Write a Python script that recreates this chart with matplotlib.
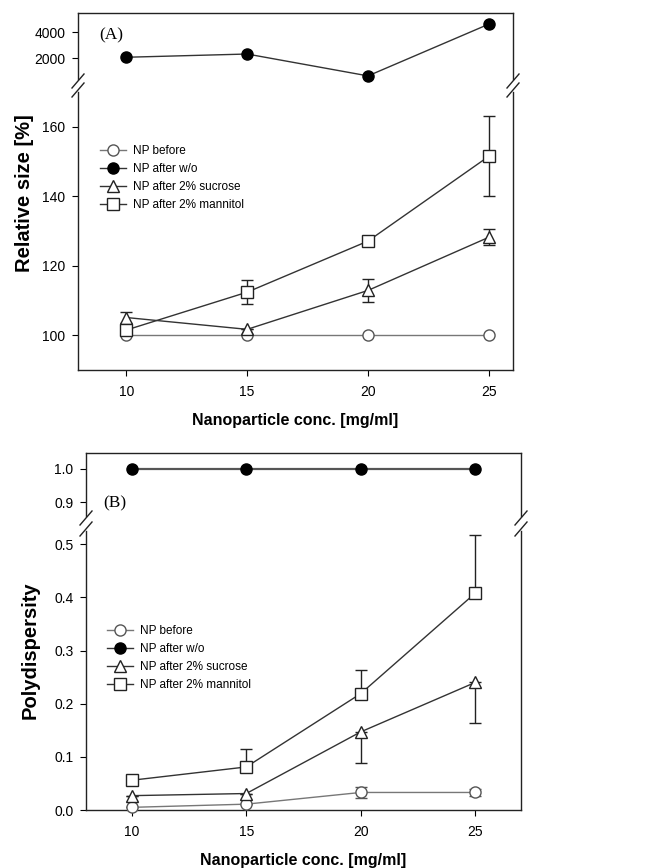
import matplotlib
matplotlib.use("Agg")
import matplotlib.pyplot as plt
from matplotlib.lines import Line2D

plt.rcParams["font.family"] = ["Liberation Sans", "DejaVu Sans"]

W, H = 646, 868

conc = [10, 15, 20, 25]
labels = ["NP before", "NP after w/o", "NP after 2% sucrose", "NP after 2% mannitol"]

# (A) relative size [%]
size_before = [100, 100, 100, 100]
size_wo = [2080, 2330, 640, 4640]
size_sucrose = [105.1, 101.7, 112.9, 128.2]
size_sucrose_err = [1.5, 0.0, 3.2, 2.3]
size_mannitol = [101.5, 112.4, 127.1, 151.5]
size_mannitol_err = [0.0, 3.5, 0.0, 11.5]

# (B) polydispersity
pdi_before = [0.005, 0.011, 0.033, 0.033]
pdi_before_err = [0.0, 0.0, 0.010, 0.007]
pdi_wo = [1.0, 1.0, 1.0, 1.0]
pdi_sucrose = [0.027, 0.031, 0.147, 0.240]
pdi_sucrose_lo = [0.0, 0.0, 0.059, 0.076]
pdi_mannitol = [0.056, 0.081, 0.219, 0.408]
pdi_mannitol_hi = [0.0, 0.034, 0.045, 0.110]


def px_axes(fig, x0, x1, y0, y1):
    # pixel box (top-left origin) -> figure fraction
    return fig.add_axes([x0 / W, 1 - y1 / H, (x1 - x0) / W, (y1 - y0) / H])


def style(ax, top_part):
    ax.tick_params(direction="out", length=4, width=0.8, labelsize=10, pad=5,
                   right=False, top=False)
    for s in ax.spines.values():
        s.set_linewidth(1.0)
        s.set_color("#222222")
    if top_part:
        ax.spines["bottom"].set_visible(False)
        ax.tick_params(axis="x", bottom=False, labelbottom=False)
    else:
        ax.spines["top"].set_visible(False)
        ax.tick_params(axis="x", pad=7)


def break_marks(ax, where):
    bb = ax.get_position()
    dx = 6 / W / bb.width
    dy = 7 / H / bb.height
    y = 0 if where == "bottom" else 1
    off = -2 / H / bb.height if where == "bottom" else 2 / H / bb.height
    for x in (0, 1):
        ax.plot([x - dx, x + dx], [y + off - dy, y + off + dy], transform=ax.transAxes,
                color="#222222", lw=1.0, clip_on=False)


kw_before = dict(color="#777777", lw=1.0, marker="o", ms=8, mfc="white", mec="#555555", mew=1.0)
kw_wo = dict(color="#333333", lw=1.0, marker="o", ms=8, mfc="black", mec="black")
kw_suc = dict(color="#333333", lw=1.0, marker="^", ms=8, mfc="white", mec="#222222", mew=1.0)
kw_man = dict(color="#333333", lw=1.0, marker="s", ms=8, mfc="white", mec="#222222", mew=1.0)
kw_err = dict(elinewidth=1.0, capsize=4, clip_on=False, zorder=3)

legend_handles = [Line2D([], [], **kw_before), Line2D([], [], **kw_wo),
                  Line2D([], [], **kw_suc), Line2D([], [], **kw_man)]
legend_kw = dict(loc="upper left", frameon=False, fontsize=8.5, handlelength=2.2,
                 handletextpad=0.55, labelspacing=0.5, borderaxespad=0)

fig = plt.figure(figsize=(W / 100, H / 100), dpi=100)

# ---------------- panel A ----------------
a_top = px_axes(fig, 78, 513, 13, 79)
a_bot = px_axes(fig, 78, 513, 92, 370)

a_top.plot(conc, size_wo, clip_on=False, zorder=3, **kw_wo)
a_top.set_xlim(8, 26)
a_top.set_ylim(400, 5500)
a_top.set_yticks([2000, 4000])
style(a_top, True)
a_top.text(0.05, 0.6, "(A)", transform=a_top.transAxes,
           family=["Liberation Serif", "DejaVu Serif"], fontsize=12.5)

a_bot.errorbar(conc, size_before, ecolor="#555555", **kw_err, **kw_before)
a_bot.errorbar(conc, size_sucrose, yerr=size_sucrose_err, ecolor="#222222", **kw_err, **kw_suc)
a_bot.errorbar(conc, size_mannitol, yerr=size_mannitol_err, ecolor="#222222", **kw_err, **kw_man)
a_bot.set_xlim(8, 26)
a_bot.set_ylim(90, 170)
a_bot.set_yticks([100, 120, 140, 160])
a_bot.set_xticks(conc)
style(a_bot, False)
a_bot.set_ylabel("Relative size [%]", fontsize=14.5, fontweight="bold")
a_bot.yaxis.set_label_coords(-0.10, 0.637)
a_bot.set_xlabel("Nanoparticle conc. [mg/ml]", fontsize=11.5, fontweight="bold", labelpad=10)
a_bot.legend(legend_handles, labels, bbox_to_anchor=(0.04, 0.825), **legend_kw)

break_marks(a_top, "bottom")
break_marks(a_bot, "top")

# ---------------- panel B ----------------
b_top = px_axes(fig, 86, 521, 453, 516)
b_bot = px_axes(fig, 86, 521, 531, 810)

b_top.plot(conc, pdi_wo, clip_on=False, zorder=3, **dict(kw_wo, color="#555555", lw=1.6))
b_top.set_xlim(8, 27)
b_top.set_ylim(0.858, 1.048)
b_top.set_yticks([0.9, 1.0])
b_top.set_yticklabels(["0.9", "1.0"])
style(b_top, True)
b_top.text(0.04, 0.13, "(B)", transform=b_top.transAxes,
           family=["Liberation Serif", "DejaVu Serif"], fontsize=12.5)

zeros = [0, 0, 0, 0]
b_bot.errorbar(conc, pdi_before, yerr=pdi_before_err, ecolor="#555555", **kw_err, **kw_before)
b_bot.errorbar(conc, pdi_sucrose, yerr=[pdi_sucrose_lo, zeros], ecolor="#222222", **kw_err, **kw_suc)
b_bot.errorbar(conc, pdi_mannitol, yerr=[zeros, pdi_mannitol_hi], ecolor="#222222", **kw_err, **kw_man)
b_bot.set_xlim(8, 27)
b_bot.set_ylim(0, 0.525)
b_bot.set_yticks([0.0, 0.1, 0.2, 0.3, 0.4, 0.5])
b_bot.set_yticklabels(["0.0", "0.1", "0.2", "0.3", "0.4", "0.5"])
b_bot.set_xticks(conc)
style(b_bot, False)
b_bot.set_ylabel("Polydispersity", fontsize=14.5, fontweight="bold")
b_bot.yaxis.set_label_coords(-0.107, 0.573)
b_bot.set_xlabel("Nanoparticle conc. [mg/ml]", fontsize=11.5, fontweight="bold", labelpad=10)
b_bot.legend(legend_handles, labels, bbox_to_anchor=(0.0385, 0.68), **legend_kw)

break_marks(b_top, "bottom")
break_marks(b_bot, "top")

fig.savefig("out.png", dpi=100)
